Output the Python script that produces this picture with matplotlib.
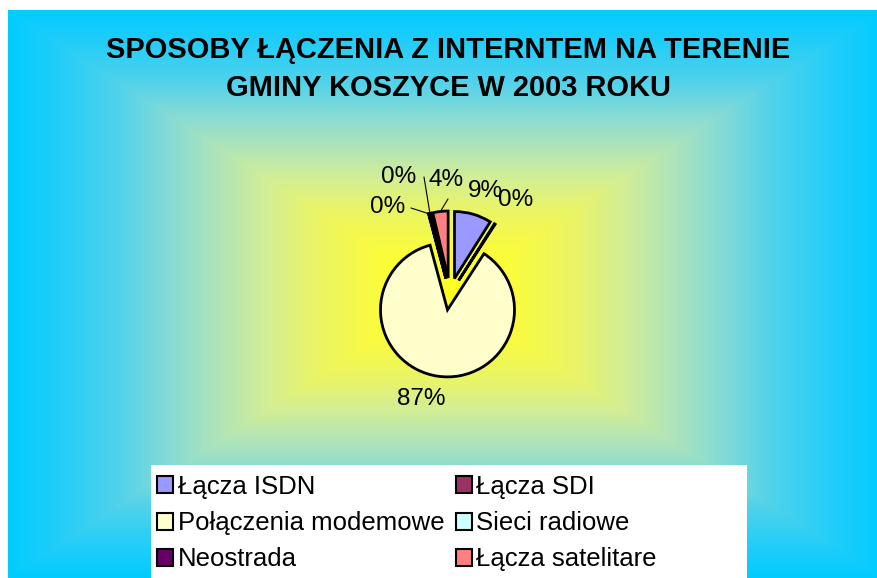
import numpy as np
import matplotlib
matplotlib.use("Agg")
import matplotlib.pyplot as plt
from matplotlib.colors import LinearSegmentedColormap
from matplotlib.patches import Rectangle, Patch

plt.rcParams['font.family'] = ['Liberation Sans', 'DejaVu Sans']

# data (percent shares)
categories = ["Łącza ISDN", "Łącza SDI", "Połączenia modemowe",
              "Sieci radiowe", "Neostrada", "Łącza satelitare"]
shares = [9, 0.2, 87, 0.1, 0.4, 3.7]
colors = ["#9999FF", "#993366", "#FFFFCC", "#CCFFFF", "#660066", "#FF8080"]
title_lines = ["SPOSOBY ŁĄCZENIA Z INTERNTEM NA TERENIE",
               "GMINY KOSZYCE W 2003 ROKU"]

W, H = 877, 578
fig = plt.figure(figsize=(W / 100, H / 100), dpi=100, facecolor="white")

# background: rectangular gradient yellow centre -> cyan edges
bx0, by0 = 8, 10
bg = fig.add_axes([bx0 / W, 0, 1 - bx0 / W, (H - by0) / H])
xs = np.arange(bx0, W) + 0.5
ys = np.arange(by0, H) + 0.5
X, Y = np.meshgrid(xs, ys)
cx, cy = 445, 294
t = np.maximum(np.abs(X - cx) / (cx - bx0), np.abs(Y - cy) / (cy - by0))
t = np.clip(t, 0, 1)
stops = [(0.0, (255, 255, 30)), (0.15, (250, 252, 60)), (0.29, (235, 245, 100)),
         (0.41, (210, 238, 150)), (0.52, (175, 228, 185)), (0.64, (130, 218, 215)),
         (0.75, (80, 210, 235)), (0.9, (30, 205, 250)), (1.0, (0, 204, 255))]
cmap = LinearSegmentedColormap.from_list(
    "bg", [(s, tuple(c / 255 for c in rgb)) for s, rgb in stops])
bg.imshow(t, cmap=cmap, vmin=0, vmax=1, aspect="auto", interpolation="bilinear")
bg.axis("off")

# title
fig.text(448 / W, 1 - 58 / H, title_lines[0], ha="center", va="baseline",
         fontsize=20.9, fontweight="bold")
fig.text(448 / W, 1 - 95.5 / H, title_lines[1], ha="center", va="baseline",
         fontsize=20.9, fontweight="bold")

# pie (1 data unit = 67 px, pie centre at pixel (450, 294))
R = 67.0
pcx, pcy = 450, 294
ax = fig.add_axes([0, 0, 1, 1])
ax.patch.set_alpha(0)
wedges, texts, autotexts = ax.pie(
    shares, colors=colors, explode=[0.24] * len(shares), startangle=90,
    counterclock=False, autopct="%1.0f%%", radius=1,
    wedgeprops=dict(edgecolor="black", linewidth=2),
    textprops=dict(fontsize=17.5))
ax.set_xlim(-pcx / R, (W - pcx) / R)
ax.set_ylim(-(H - pcy) / R, pcy / R)
ax.set_aspect("auto")
ax.axis("off")

# label placement (pixel positions of the label centres)
label_px = [(485, 191), (516, 200), (421, 399), (388, 207), (399, 177), (446, 180)]
for txt, (px, py) in zip(autotexts, label_px):
    txt.set_position(((px - pcx) / R, (pcy - py) / R))
    txt.set_ha("center")
    txt.set_va("center")


def outer_point(w):
    mid = np.deg2rad((w.theta1 + w.theta2) / 2)
    return (w.center[0] + w.r * np.cos(mid), w.center[1] + w.r * np.sin(mid))


# leader lines for the small slices
leader_from = {3: (411, 208), 4: (424, 177), 5: (448, 199)}
for i, (px, py) in leader_from.items():
    ax.annotate("", xy=outer_point(wedges[i]), xytext=((px - pcx) / R, (pcy - py) / R),
                arrowprops=dict(arrowstyle="-", color="black", lw=0.8,
                                shrinkA=0, shrinkB=0))

# legend on a white box
fig.patches.append(Rectangle((151 / W, 0), (747 - 151) / W, (H - 465) / H,
                             transform=fig.transFigure, facecolor="white",
                             edgecolor="none", zorder=2))
handles = [Patch(facecolor=c, edgecolor="black", linewidth=1.5) for c in colors]
order = [0, 2, 4, 1, 3, 5]
leg = fig.legend([handles[i] for i in order], [categories[i] for i in order],
                 ncol=2, loc="upper left", bbox_to_anchor=(157 / W, 1 - 475 / H),
                 frameon=False, fontsize=18.5, handlelength=0.64, handleheight=0.64,
                 handletextpad=0.16, columnspacing=0.45, labelspacing=0.47,
                 borderpad=0, borderaxespad=0)
leg.set_zorder(3)

fig.savefig("out.png", dpi=100, facecolor="white")
